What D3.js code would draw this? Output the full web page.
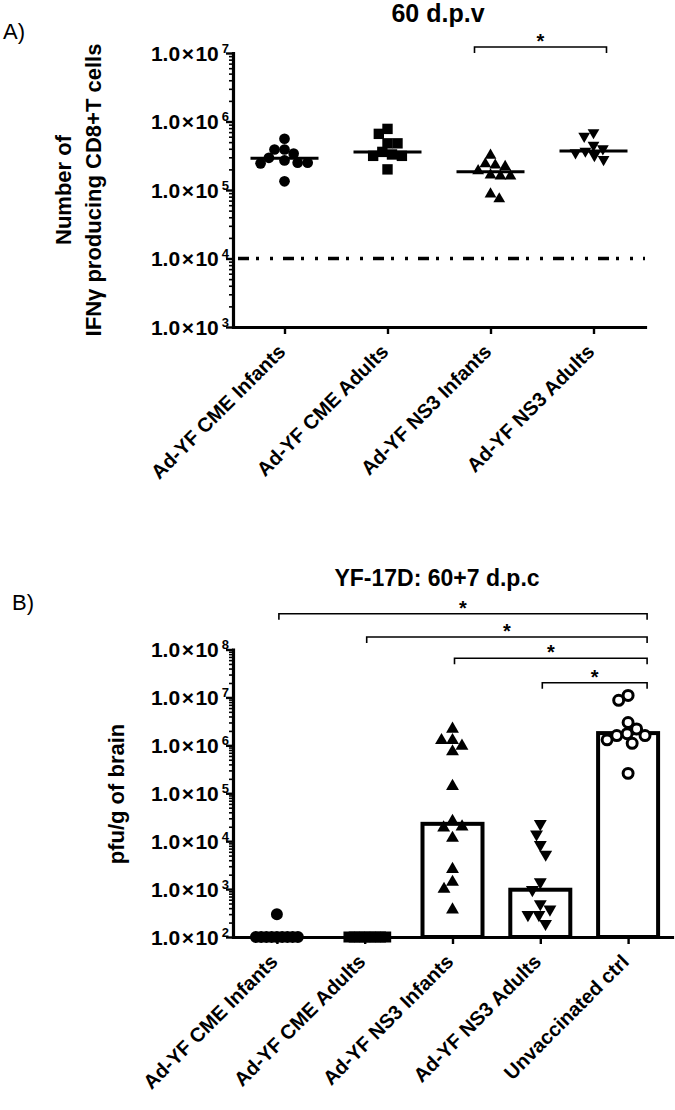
<!DOCTYPE html>
<html><head><meta charset="utf-8">
<script src="https://cdn.jsdelivr.net/npm/d3@7"></script>
<style>
body{margin:0;background:#fff}
svg{display:block}
text{font-family:"Liberation Sans",Arial,Helvetica,sans-serif;fill:#000}
</style>
</head><body>
<svg id="chart" width="675" height="1110"></svg>
<script>
// ---------------- Panel A data (60 d.p.v) ----------------
const groupsA = ["Ad-YF CME Infants", "Ad-YF CME Adults", "Ad-YF NS3 Infants", "Ad-YF NS3 Adults"];
const cmeInfantsA = [5.6e5, 3.9e5, 3.9e5, 3.4e5, 2.95e5, 2.7e5, 2.5e5, 2.45e5, 2.5e5, 1.34e5];
const cmeAdultsA  = [7.8e5, 6.6e5, 4.8e5, 4.8e5, 3.6e5, 3.3e5, 3.15e5, 3.15e5, 2.0e5];
const ns3InfantsA = [3.2e5, 2.4e5, 2.3e5, 2.2e5, 1.9e5, 1.65e5, 1.6e5, 1.6e5, 8.7e4, 7.4e4];
const ns3AdultsA  = [6.9e5, 6.1e5, 4.5e5, 4.0e5, 3.7e5, 3.5e5, 3.2e5, 2.8e5];
const mediansA    = [2.9e5, 3.6e5, 1.84e5, 3.7e5];
const cutoffA     = 1e4;
const ticksA      = [1e3, 1e4, 1e5, 1e6, 1e7];
const sigA        = [[2, 3, "*"]];
const titleA      = "60 d.p.v";
const yTitleA     = ["Number of", "IFN\u03B3 producing CD8+T cells"];

// ---------------- Panel B data (YF-17D: 60+7 d.p.c) ----------------
const groupsB = ["Ad-YF CME Infants", "Ad-YF CME Adults", "Ad-YF NS3 Infants", "Ad-YF NS3 Adults", "Unvaccinated ctrl"];
const cmeInfantsB = [3.0e2, 1e2, 1e2, 1e2, 1e2, 1e2, 1e2, 1e2, 1e2, 1e2];
const cmeAdultsB  = [1e2, 1e2, 1e2, 1e2, 1e2, 1e2, 1e2, 1e2];
const ns3InfantsB = [2.2e6, 1.27e6, 1.27e6, 9.7e5, 7.4e5, 1.4e5, 2.6e4, 2.0e4, 1.9e4, 1.16e4, 2.6e3, 1.4e3, 1.0e3, 3.7e2];
const ns3AdultsB  = [2.3e4, 1.4e4, 8.4e3, 5.3e3, 1.4e3, 9.7e2, 4.9e2, 3.8e2, 2.9e2, 2.9e2, 1.9e2];
const unvaccB     = [1.1e7, 8.7e6, 3.0e6, 2.2e6, 1.75e6, 1.6e6, 1.6e6, 1.3e6, 1.1e6, 2.6e5];
const mediansB    = [1e2, 1e2, 2.3e4, 9.7e2, 1.8e6];
const ticksB      = [1e2, 1e3, 1e4, 1e5, 1e6, 1e7, 1e8];
const sigB        = [[0, 4, "*"], [1, 4, "*"], [2, 4, "*"], [3, 4, "*"]];
const titleB      = "YF-17D: 60+7 d.p.c";
const yTitleB     = ["pfu/g of brain"];

const seriesA = [cmeInfantsA, cmeAdultsA, ns3InfantsA, ns3AdultsA];
const seriesB = [cmeInfantsB, cmeAdultsB, ns3InfantsB, ns3AdultsB, unvaccB];

// ---------------- helpers ----------------
const svg = d3.select("#chart");

// beeswarm-like dodge of points within a column (pixel y -> pixel x offset)
function dodge(ys, minDist, maxHalf) {
  const idx = d3.range(ys.length).sort((a, b) => ys[a] - ys[b]);
  const xs = new Array(ys.length);
  const placed = [];
  let side = -1;
  for (const i of idx) {
    const y = ys[i];
    const ivs = [];
    for (const p of placed) {
      const dy = Math.abs(p.y - y);
      if (dy < minDist) { const w = Math.sqrt(minDist * minDist - dy * dy); ivs.push([p.x - w, p.x + w]); }
    }
    const cands = [0];
    ivs.forEach(([a, b]) => cands.push(a, b));
    const free = cands.filter(c => ivs.every(([a, b]) => c <= a + 1e-9 || c >= b - 1e-9));
    const best = d3.min(free, c => Math.abs(c));
    const opts = free.filter(c => Math.abs(Math.abs(c) - best) < 1e-6);
    let x;
    if (opts.some(c => c < 0) && opts.some(c => c > 0)) { x = side < 0 ? d3.min(opts) : d3.max(opts); side = -side; }
    else x = opts[0];
    xs[i] = x;
    placed.push({x, y});
  }
  const m = d3.max(xs, Math.abs) || 0;
  if (m > maxHalf) for (let i = 0; i < xs.length; i++) xs[i] *= maxHalf / m;
  return xs;
}

function logAxis(g, y, ticks, xAxis) {
  const [lo, hi] = d3.extent(ticks);
  const minor = [];
  for (let d = lo; d < hi; d *= 10) for (let k = 2; k <= 9; k++) minor.push(d * k);
  g.append("g").attr("transform", `translate(${xAxis},0)`)
    .call(d3.axisLeft(y).tickValues(minor).tickSize(4).tickSizeOuter(0).tickFormat(""))
    .call(a => a.select(".domain").remove())
    .call(a => a.selectAll("line").attr("stroke", "#000").attr("stroke-width", 1.6));
  g.append("g").attr("transform", `translate(${xAxis},0)`)
    .call(d3.axisLeft(y).tickValues(ticks).tickSize(7).tickSizeOuter(0).tickFormat(""))
    .call(a => a.select(".domain").attr("stroke", "#000").attr("stroke-width", 3.2).attr("stroke-linecap", "square"))
    .call(a => a.selectAll("line").attr("stroke", "#000").attr("stroke-width", 2.4));
  ticks.forEach(t => {
    const e = Math.round(Math.log10(t));
    const tx = g.append("text").attr("x", xAxis - 4).attr("y", y(t) + 7.5)
      .attr("text-anchor", "end").attr("font-weight", "bold").attr("font-size", 21);
    tx.append("tspan").text("1.0");
    tx.append("tspan").attr("dx", 1.5).text("\u00D7");
    tx.append("tspan").attr("dx", 1.5).text("10");
    tx.append("tspan").attr("dx", 3).attr("dy", -8).attr("font-size", 13).text(e);
  });
}

function xAxisDraw(g, x, yPos, groups) {
  g.append("g").attr("transform", `translate(0,${yPos})`)
    .call(d3.axisBottom(x).tickSize(7).tickSizeOuter(0).tickFormat(""))
    .call(a => a.select(".domain").attr("stroke", "#000").attr("stroke-width", 3.2).attr("stroke-linecap", "square"))
    .call(a => a.selectAll("line").attr("stroke", "#000").attr("stroke-width", 2.4));
  groups.forEach(gname => {
    g.append("text")
      .attr("transform", `translate(${x(gname) + 2},${yPos + 26}) rotate(-45)`)
      .attr("text-anchor", "end").attr("font-weight", "bold").attr("font-size", 20)
      .text(gname);
  });
}

function bracket(g, x1, x2, yl, label) {
  g.append("path")
    .attr("d", `M${x1},${yl + 6}V${yl}H${x2}V${yl + 6}`)
    .attr("fill", "none").attr("stroke", "#000").attr("stroke-width", 1.6);
  g.append("text").attr("x", (x1 + x2) / 2).attr("y", yl + 1)
    .attr("text-anchor", "middle").attr("font-weight", "bold").attr("font-size", 20).text(label);
}

// ---------------- Panel A ----------------
{
  const g = svg.append("g");
  const x = d3.scalePoint().domain(groupsA).range([233, 645]).padding(0.5);
  const y = d3.scaleLog().domain([1e3, 1e7]).range([327, 53]);

  g.append("text").attr("x", 3).attr("y", 39).attr("font-size", 22).text("A)");
  g.append("text").attr("x", 438).attr("y", 22).attr("text-anchor", "middle")
    .attr("font-weight", "bold").attr("font-size", 25).text(titleA);

  [71, 101].forEach((bx, i) => {
    g.append("text").attr("transform", `translate(${bx},190) rotate(-90)`)
      .attr("text-anchor", "middle").attr("font-weight", "bold").attr("font-size", 22).text(yTitleA[i]);
  });

  g.append("line").attr("x1", x.range()[0]).attr("x2", x.range()[1])
    .attr("y1", y(cutoffA)).attr("y2", y(cutoffA))
    .attr("stroke", "#000").attr("stroke-width", 3.5)
    .attr("stroke-dasharray", "11,7,3,11,3,10").attr("stroke-dashoffset", 40);

  logAxis(g, y, ticksA, 233);
  xAxisDraw(g, x, 327, groupsA);

  const shapes = [
    d3.symbol(d3.symbolCircle, 90),
    d3.symbol(d3.symbolSquare, 108),
    d3.symbol(d3.symbolTriangle, 60),
    d3.symbol(d3.symbolTriangle, 60)
  ];
  seriesA.forEach((vals, gi) => {
    const cx = x(groupsA[gi]);
    const ys = vals.map(v => y(v));
    const offs = dodge(ys, 10, 26);
    vals.forEach((v, i) => {
      g.append("path").attr("d", shapes[gi]())
        .attr("transform", `translate(${cx + offs[i]},${ys[i]})${gi === 3 ? " rotate(180)" : ""}`)
        .attr("fill", "#000");
    });
    g.append("line").attr("x1", cx - 34).attr("x2", cx + 34)
      .attr("y1", y(mediansA[gi])).attr("y2", y(mediansA[gi]))
      .attr("stroke", "#000").attr("stroke-width", 3);
  });

  sigA.forEach(([a, b, lab]) => bracket(g, x(groupsA[a]) - 16, x(groupsA[b]) + 13, 47, lab));
}

// ---------------- Panel B ----------------
{
  const g = svg.append("g");
  const x = d3.scalePoint().domain(groupsB).range([233, 672]).padding(0.5);
  const y = d3.scaleLog().domain([1e2, 1e8]).range([937, 649.5]);

  g.append("text").attr("x", 12).attr("y", 610).attr("font-size", 22).text("B)");
  g.append("text").attr("x", 437).attr("y", 586).attr("text-anchor", "middle")
    .attr("font-weight", "bold").attr("font-size", 23).text(titleB);

  g.append("text").attr("transform", `translate(124,794) rotate(-90)`)
    .attr("text-anchor", "middle").attr("font-weight", "bold").attr("font-size", 22).text(yTitleB[0]);

  mediansB.forEach((m, gi) => {
    const cx = x(groupsB[gi]);
    g.append("rect").attr("x", cx - 30).attr("width", 60)
      .attr("y", y(m)).attr("height", y(1e2) - y(m))
      .attr("fill", "#fff").attr("stroke", "#000").attr("stroke-width", 4);
  });

  logAxis(g, y, ticksB, 233);
  xAxisDraw(g, x, 937, groupsB);

  const shapes = [
    d3.symbol(d3.symbolCircle, 113),
    d3.symbol(d3.symbolSquare, 121),
    d3.symbol(d3.symbolTriangle, 72),
    d3.symbol(d3.symbolTriangle, 72),
    d3.symbol(d3.symbolCircle, 78)
  ];
  seriesB.forEach((vals, gi) => {
    const cx = x(groupsB[gi]);
    const ys = vals.map(v => y(v));
    const offs = dodge(ys, 11, 21);
    vals.forEach((v, i) => {
      const p = g.append("path").attr("d", shapes[gi]())
        .attr("transform", `translate(${cx + offs[i]},${ys[i]})${gi === 3 ? " rotate(180)" : ""}`);
      if (gi === 4) p.attr("fill", "#fff").attr("stroke", "#000").attr("stroke-width", 3);
      else p.attr("fill", "#000");
    });
  });

  const levels = [613.7, 637, 658.3, 682.7];
  sigB.forEach(([a, b, lab], k) => bracket(g, x(groupsB[a]) + 2, x(groupsB[b]) + 19, levels[k], lab));
}
</script>
</body></html>
